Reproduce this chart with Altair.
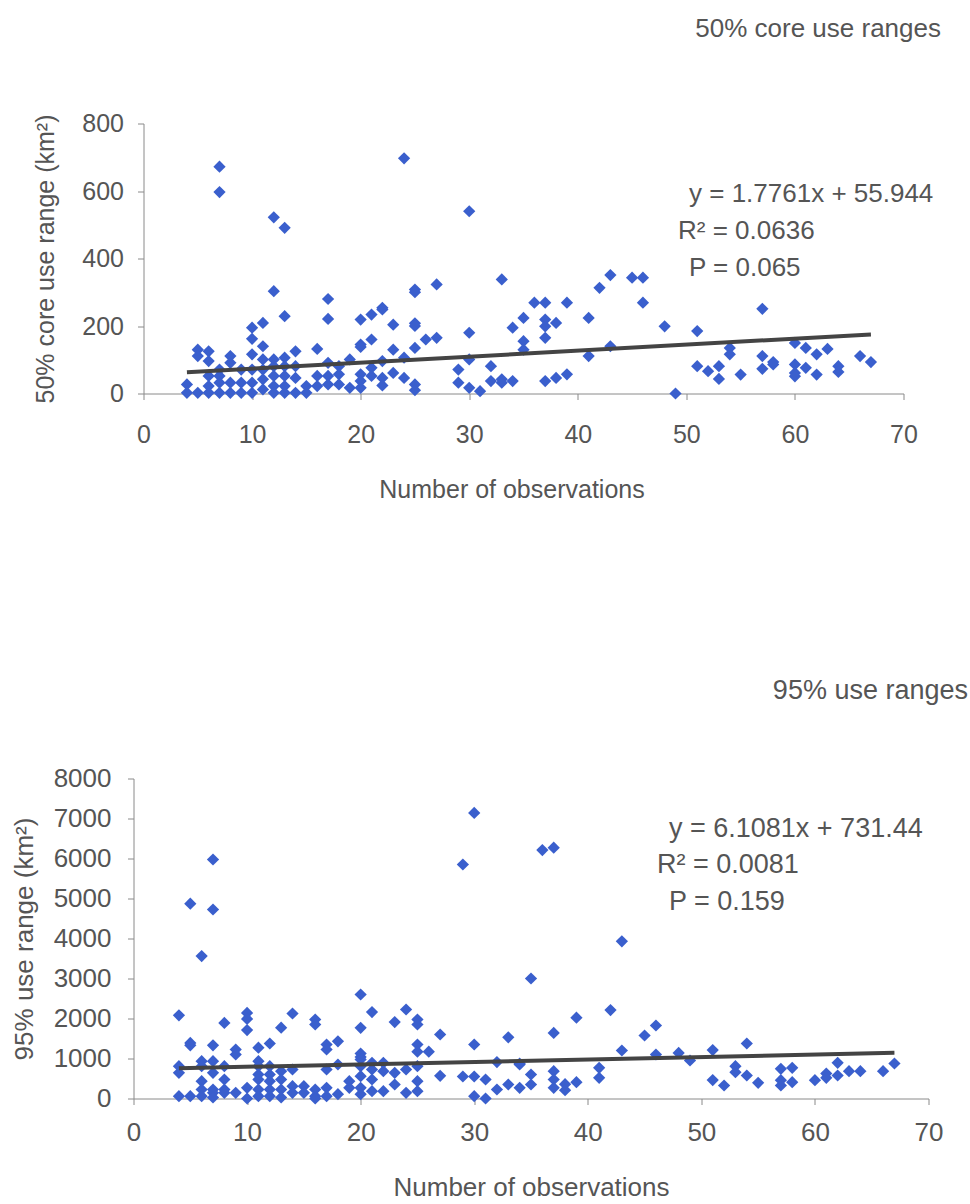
import altair as alt
import pandas as pd

# ---------------- data: 50% core use ranges ----------------
core_x = [7, 7, 24, 12, 13, 30, 12, 17, 13, 17, 25, 25, 27, 33, 20, 21, 22, 22, 23, 25,
          25, 26, 27, 25, 24, 24, 25, 25, 23, 23, 22, 22, 22, 21, 21, 21, 20, 20, 20, 20,
          20, 19, 19, 18, 18, 18, 17, 17, 17, 16, 16, 16, 15, 15, 14, 14, 14, 14, 13, 13,
          13, 13, 13, 12, 12, 12, 12, 12, 11, 11, 11, 11, 11, 11, 10, 10, 10, 10, 10, 10,
          9, 9, 9, 8, 8, 8, 8, 7, 7, 7, 7, 6, 6, 6, 6, 6, 5, 5, 5, 4,
          4, 29, 29, 30, 30, 30, 31, 32, 32, 33, 33, 34, 34,
          35, 35, 35, 36, 37, 37, 38, 37, 37, 39, 37, 38, 39, 41, 41, 42, 43, 43, 45, 46,
          46, 48, 49, 51, 51, 52, 53, 53, 54, 54, 55, 57, 57, 57, 58, 58, 60, 60, 60, 60,
          61, 61, 62, 62, 63, 64, 64, 66, 67]
core_y = [672, 597, 697, 522, 491, 540, 303, 280, 229, 221, 308, 300, 323, 338, 219, 234, 254, 249, 204, 208,
          200, 160, 165, 135, 106, 46, 27, 10, 130, 61, 96, 46, 24, 160, 76, 52, 145, 138, 57, 37,
          17, 101, 17, 81, 57, 27, 91, 52, 27, 132, 52, 22, 22, 2, 125, 81, 46, 2, 106, 81,
          52, 22, 2, 101, 81, 52, 22, 2, 209, 140, 101, 71, 42, 12, 195, 162, 116, 71, 32, 2,
          71, 32, 2, 111, 91, 32, 2, 71, 52, 32, 2, 125, 96, 52, 22, 2, 130, 111, 2, 27,
          2, 71, 32, 180, 101, 17, 7, 81, 37, 42, 32, 37, 195,
          224, 155, 130, 269, 269, 219, 209, 199, 165, 269, 37, 46, 57, 224, 111, 313, 351, 140, 343, 343,
          269, 199, 0, 185, 81, 66, 81, 43, 135, 116, 56, 251, 111, 73, 93, 86, 150, 86, 61, 51,
          135, 76, 116, 56, 132, 81, 64, 111, 93]

# ---------------- data: 95% use ranges ----------------
use_x = [30, 29, 7, 5, 7, 6, 4, 20, 21, 24, 25, 25, 23, 14, 16, 16, 10, 10, 10, 8,
         13, 20, 27, 5, 5, 7, 9, 9, 11, 12, 17, 17, 18, 20, 20, 25, 25, 26, 30, 33,
         32, 34, 35,
         4, 4, 4, 5, 6, 6, 6, 6, 6, 7, 7, 7, 7, 7, 8, 8, 8, 8, 9, 10, 10, 11,
         11, 11, 11, 11, 11, 12, 12, 12, 12, 12, 13, 13, 13, 13, 14, 14, 14, 15, 15, 16,
         16, 16, 17, 17, 17, 18, 18, 19, 19, 20, 20, 20, 20, 20, 21, 21, 21, 21, 22, 22,
         22, 23, 23, 24, 24, 25, 25, 25, 27, 29, 30, 30, 31, 31, 32, 33, 34, 34,
         36, 37, 43, 42, 39, 37, 46, 45, 43, 46, 48, 49, 51, 51, 52, 54, 53, 53, 54, 55,
         57, 57, 57, 58, 58, 60, 61, 61, 62, 62, 63, 64, 66, 67, 35, 35, 37, 37, 37, 38,
         38, 39, 41, 41]
use_y = [7140, 5850, 5975, 4870, 4725, 3560, 2080, 2600, 2160, 2225, 1975, 1850, 1910, 2125, 1975, 1850, 2140, 1990, 1710, 1890,
         1770, 1767, 1600, 1390, 1330, 1330, 1225, 1100, 1270, 1375, 1350, 1225, 1430, 1125, 1040, 1350, 1170, 1170, 1350, 1530,
         910, 875, 3000,
         808, 642, 58, 58, 933, 808, 433, 225, 58, 933, 642, 225, 142, 25, 808, 475, 225, 142, 142, 267, 0, 933,
         808, 600, 475, 225, 58, 808, 600, 433, 225, 58, 683, 475, 225, 25, 725, 308, 142, 308, 142, 225,
         58, 0, 725, 267, 58, 850, 108, 433, 267, 975, 808, 558, 267, 108, 892, 725, 475, 183, 892, 683,
         183, 642, 350, 725, 142, 808, 433, 183, 567, 550, 550, 58, 475, 0, 225, 350, 267, 850,
         6210, 6270, 3930, 2210, 2020, 1640, 1825, 1575, 1200, 1100, 1140, 950, 1210, 460, 325, 1375, 808, 658, 575, 392,
         742, 458, 325, 767, 408, 458, 625, 517, 892, 575, 683, 683, 683, 875, 600, 350, 683, 475, 267, 358,
         208, 408, 767, 517]

# regression results stated on the chart
core_slope, core_intercept = 1.7761, 55.944
use_slope, use_intercept = 6.1081, 731.44
fit_x = [4, 67]
core_labels = ["y = 1.7761x + 55.944", "R\u00b2 = 0.0636", "P = 0.065"]
use_labels = ["y = 6.1081x + 731.44", "R\u00b2 = 0.0081", "P = 0.159"]
core_title = "50% core use ranges"
use_title = "95% use ranges"
x_ticks = [0, 10, 20, 30, 40, 50, 60, 70]
core_ticks = [0, 200, 400, 600, 800]
use_ticks = [0, 1000, 2000, 3000, 4000, 5000, 6000, 7000, 8000]

FONT = "Liberation Sans"
TXT = "#555555"
AXC = "#8a8a8a"
BLUE = "#3A5FCD"
LINE = "#444444"


def text_layer(label, x, y, size, align):
    return alt.Chart(pd.DataFrame({"t": [label]})).mark_text(
        font=FONT, fontSize=size, color=TXT, align=align, baseline="middle"
    ).encode(text="t:N", x=alt.value(x), y=alt.value(y))


def panel(xs, ys, slope, intercept, labels, title, yticks, ytitle,
          width, height, shift, fs, lab_pad_x, title_pad_x, lab_pad_y, title_pad_y,
          pos, title_x=None):
    pts = pd.DataFrame({"x": xs, "y": ys})
    fit = pd.DataFrame({"x": fit_x})
    fit["y"] = slope * fit["x"] + intercept

    xaxis_kw = dict(values=x_ticks, grid=False, tickSize=6, labelPadding=lab_pad_x,
                    titlePadding=title_pad_x, domainColor=AXC, tickColor=AXC,
                    labelColor=TXT, titleColor=TXT, labelFont=FONT, titleFont=FONT,
                    labelFontSize=fs, titleFontSize=fs, titleFontWeight="normal",
                    labelFlush=False, labelOverlap=False, labelBound=False, format="d",
                    title="Number of observations")
    if title_x is not None:
        xaxis_kw["titleX"] = title_x
    xscale = alt.Scale(domain=[0, 70], range=[shift, width], nice=False)
    yaxis_kw = dict(values=yticks, grid=False, tickSize=6,
                    labelPadding=lab_pad_y,
                    titlePadding=title_pad_y, domainColor=AXC, tickColor=AXC,
                    labelColor=TXT, titleColor=TXT, labelFont=FONT, titleFont=FONT,
                    labelFontSize=fs, titleFontSize=fs, titleFontWeight="normal",
                    labelFlush=False, labelOverlap=False, labelBound=False,
                    format="d", title=ytitle)
    if shift:
        yaxis_kw["offset"] = -shift
    yscale = alt.Scale(domain=[0, yticks[-1]], nice=False)
    xaxis = alt.Axis(**xaxis_kw)
    yaxis = alt.Axis(**yaxis_kw)

    scatter = alt.Chart(pts).mark_point(
        shape="diamond", filled=True, size=150, color=BLUE, opacity=1
    ).encode(
        x=alt.X("x:Q", scale=xscale, axis=xaxis),
        y=alt.Y("y:Q", scale=yscale, axis=yaxis),
    )
    line = alt.Chart(fit).mark_line(color=LINE, strokeWidth=4).encode(
        x=alt.X("x:Q", scale=xscale, axis=xaxis),
        y=alt.Y("y:Q", scale=yscale, axis=yaxis),
    )
    layers = [scatter, line]
    (ex, ey), (rx, ry), (px, py), (tx, ty) = pos
    layers.append(text_layer(labels[0], ex, ey, fs + 1, "left"))
    layers.append(text_layer(labels[1], rx, ry, fs + 1, "left"))
    layers.append(text_layer(labels[2], px, py, fs + 1, "left"))
    layers.append(text_layer(title, tx, ty, fs + 1, "right"))
    return alt.layer(*layers).properties(width=width, height=height)


top = panel(core_x, core_y, core_slope, core_intercept, core_labels, core_title,
            core_ticks, "50% core use range (km\u00b2)",
            width=770, height=270, shift=10, fs=25,
            lab_pad_x=23, title_pad_x=30, lab_pad_y=14, title_pad_y=23,
            pos=[(555.5, 70.5), (544.5, 107.5), (555.5, 144.5), (807.5, -94.5)],
            title_x=378)
bottom = panel(use_x, use_y, use_slope, use_intercept, use_labels, use_title,
               use_ticks, "95% use range (km\u00b2)",
               width=795, height=320, shift=0, fs=26,
               lab_pad_x=15, title_pad_x=29, lab_pad_y=16.5, title_pad_y=15.5,
               pos=[(535.5, 50.5), (523.5, 86.5), (535.5, 123.5), (834.5, -87.5)])

chart = alt.vconcat(top, bottom, spacing=174).properties(
    padding={"left": 11.5, "top": 15.5, "right": 0, "bottom": 0}
).configure(background="white").configure_view(stroke=None).configure_axis(
    labelOverlap=False
)

chart.save("out.html", embed_options={"renderer": "svg", "actions": False})
